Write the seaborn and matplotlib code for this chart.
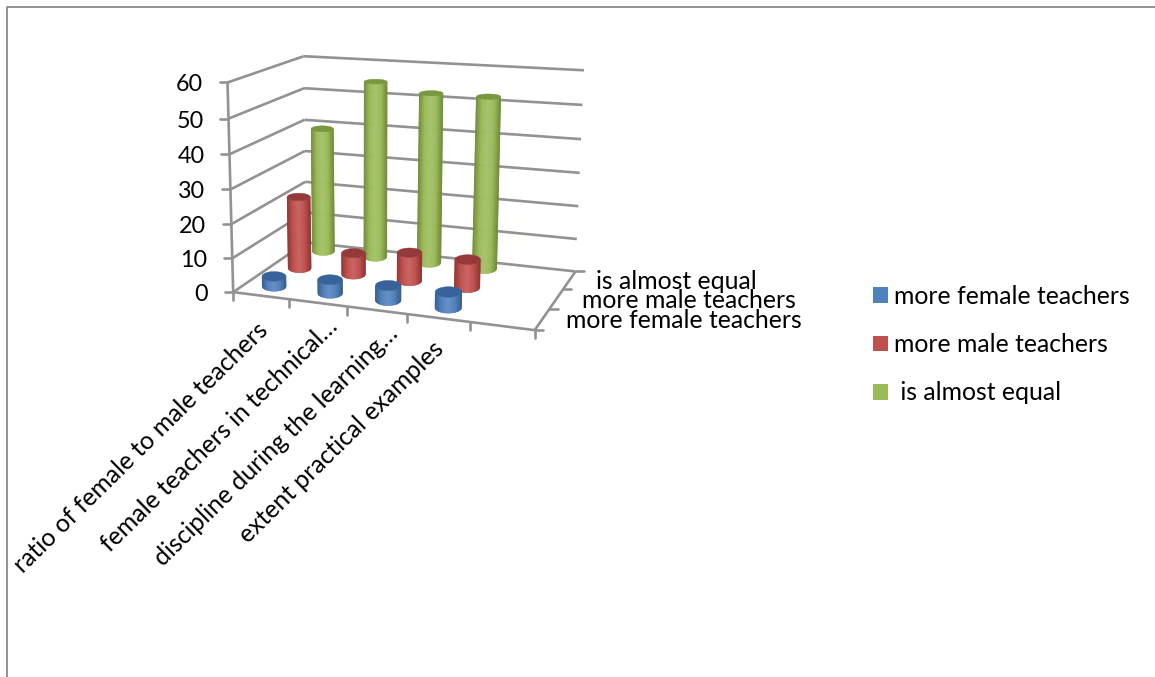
import colorsys

import numpy as np
import pandas as pd
import matplotlib
matplotlib.use("Agg")
import matplotlib.pyplot as plt
from matplotlib.colors import to_rgb
from matplotlib.patches import Patch, Polygon
import seaborn as sns

# Survey results
categories = [
    "ratio of female to male teachers",
    "female teachers in technical…",
    "discipline during the learning…",
    "extent practical examples",
]
series_names = ["more female teachers", "more male teachers", "is almost equal"]
female_values = [3, 4, 4.3, 4.5]
male_values = [22, 6.5, 8.5, 8.3]
equal_values = [39, 54.5, 52, 52]
value_ticks = [0, 10, 20, 30, 40, 50, 60]
series_colors = ["#4F81BD", "#C0504D", "#9BBB59"]
cap_colors = ["#38639A", "#96393A", "#78973F"]

table = pd.DataFrame({
    "category": list(range(len(categories))) * 3,
    "series": np.repeat(range(3), len(categories)),
    "value": female_values + male_values + equal_values,
})

sns.set_theme(style="white")
plt.rcParams["font.family"] = ["Lato", "DejaVu Sans"]

W, H = 1155, 677
fig = plt.figure(figsize=(W / 100, H / 100), dpi=100, facecolor="white")
ax = fig.add_axes([0, 0, 1, 1])
ax.set_xlim(0, W)
ax.set_ylim(H, 0)
ax.axis("off")

LINE = "#929292"
FONT = 17.8
X_SLOTS = 5  # four filled categories plus one empty slot on the category axis
ROW_DEPTH = [0.5, 1.55, 2.62]  # where each series row stands on the depth axis

# Camera: a projective map from (category, depth, value) to canvas pixels,
# solved from where the box corners and edge divisions should land.
camera_world = np.array([
    [0, 0, 0], [5, 0, 0], [5, 3, 0], [0, 3, 0],
    [0, 0, 60], [0, 3, 60], [5, 3, 60],
    [0, 0, 30], [0, 3, 30], [5, 3, 30],
    [1, 0, 0], [2, 0, 0], [3, 0, 0], [4, 0, 0],
    [5, 1, 0], [5, 2, 0], [5, 3, 10],
], float)
camera_canvas = np.array([
    [235, 291.7], [532.7, 330.7], [574.5, 270], [303.5, 243.5],
    [225.7, 82.7], [306, 55], [583.3, 70.7],
    [230.5, 189.3], [305, 151.7], [579.3, 173.3],
    [290, 298], [347.3, 306.7], [406.7, 315], [468.3, 323],
    [553.3, 308], [565, 288], [576.7, 240],
], float)


def solve_camera(world, canvas):
    rows, rhs = [], []
    for (x, y, z), (u, v) in zip(world, canvas):
        rows.append([x, y, z, 1, 0, 0, 0, 0, -u * x, -u * y, -u * z])
        rows.append([0, 0, 0, 0, x, y, z, 1, -v * x, -v * y, -v * z])
        rhs += [u, v]
    p = np.linalg.lstsq(np.array(rows), np.array(rhs), rcond=None)[0]
    return np.append(p, 1.0).reshape(3, 4)


P = solve_camera(camera_world, camera_canvas)


def project(x, y, z):
    x, y, z = np.broadcast_arrays(x, y, z)
    q = P @ np.vstack([x.ravel(), y.ravel(), z.ravel(), np.ones(x.size)])
    return q[0] / q[2], q[1] / q[2]


def edge(a, b, lw=1.9):
    xs, ys = project(*zip(a, b))
    ax.plot(xs, ys, color=LINE, lw=lw, solid_capstyle="butt", zorder=1)


# Outer chart frame
ax.plot([7, 7, W], [H, 7, 7], color="#8a8a8a", lw=1.3, zorder=1)

# Walls and floor
for v in value_ticks:
    edge((0, 0, v), (0, 3, v))
    edge((0, 3, v), (X_SLOTS, 3, v))
    u0, v0 = project(0, 0, v)
    ax.plot([u0[0] - 8, u0[0]], [v0[0], v0[0]], color=LINE, lw=1.9, zorder=1)
    ax.text(u0[0] - 25, v0[0] + 2.5, str(v), ha="right", va="center",
            fontsize=FONT - 1, color="black")
edge((0, 0, 0), (0, 0, 60))
edge((0, 0, 0), (X_SLOTS, 0, 0))
edge((X_SLOTS, 0, 0), (X_SLOTS, 3, 0))

for i in range(X_SLOTS + 1):
    u0, v0 = project(i, 0, 0)
    ax.plot([u0[0], u0[0]], [v0[0], v0[0] + 8], color=LINE, lw=1.9, zorder=1)
for j in range(4):
    u0, v0 = project(X_SLOTS, j, 0)
    ax.plot([u0[0], u0[0] + 8], [v0[0], v0[0]], color=LINE, lw=1.9, zorder=1)

# Rotated category labels, each ending just under the front edge
label_ends = [(264, 326), (334, 323), (394, 330), (440, 345)]
for name, (lx, ly) in zip(categories, label_ends):
    ax.text(lx, ly, name, rotation=44.5, rotation_mode="anchor", ha="right",
            va="center", fontsize=FONT, color="black")

# Depth axis labels
depth_labels = [(566.5, 320.5), (581.5, 300), (596, 281.5)]
for name, (lx, ly) in zip(series_names, depth_labels):
    ax.text(lx, ly, name, ha="left", va="center", fontsize=FONT, color="black")

HALF_WIDTH = 0.218   # cylinder half width, in category slots
FLATTEN = 0.41       # floor-level ellipse height over width
RISE_FLATTEN = 0.009 # ellipses flatten as they approach eye level
STRIPS = 48


def shade(colour, factor):
    h, l, s = colorsys.rgb_to_hls(*to_rgb(colour))
    return sns.set_hls_values(colour, l=min(0.95, l * factor))


def cylinder(cx, cy, value, base, cap, order):
    edge_tone = shade(base, 0.72)
    ramp = sns.blend_palette([edge_tone, base, shade(base, 1.1), base, edge_tone],
                             n_colors=STRIPS)
    ul, _ = project(cx - 0.5, cy, 0.0)
    ur, _ = project(cx + 0.5, cy, 0.0)
    a = HALF_WIDTH * (ur[0] - ul[0])
    b0 = FLATTEN * a
    b1 = b0 * (1 - RISE_FLATTEN * value)
    u0, v0 = project(cx, cy, 0.0)
    u1, v1 = project(cx, cy, float(value))
    s = np.linspace(-1, 1, STRIPS + 1)
    near = np.sqrt(1 - s ** 2)
    for k in range(STRIPS):
        quad = [(u0[0] + a * s[k], v0[0] + b0 * near[k]),
                (u0[0] + a * s[k + 1], v0[0] + b0 * near[k + 1]),
                (u1[0] + a * s[k + 1], v1[0] + b1 * near[k + 1]),
                (u1[0] + a * s[k], v1[0] + b1 * near[k])]
        ax.add_patch(Polygon(quad, closed=True, facecolor=ramp[k], edgecolor=ramp[k],
                             lw=0.3, zorder=order))
    t = np.linspace(0, 2 * np.pi, 73)
    ax.add_patch(Polygon(np.column_stack([u1[0] + a * np.cos(t), v1[0] + b1 * np.sin(t)]),
                         closed=True, facecolor=cap, edgecolor=cap, lw=0.3,
                         zorder=order + 0.05))


# Cylinders, rear row first
for row in table.sort_values(["series", "category"], ascending=[False, True]).itertuples():
    order = 3 + (2 - row.series) * 2 + row.category * 0.1
    cylinder(row.category + 0.505, ROW_DEPTH[row.series], row.value,
             series_colors[row.series], cap_colors[row.series], order)

# Legend
handles = [Patch(facecolor=c, edgecolor="none", label=n)
           for c, n in zip(series_colors, ["more female teachers", "more male teachers", " is almost equal"])]
ax.legend(handles=handles, loc="upper left", bbox_to_anchor=(873, 285),
          bbox_transform=ax.transData, frameon=False, fontsize=FONT, labelcolor="black",
          handlelength=0.61, handleheight=0.61, handletextpad=0.24,
          labelspacing=1.02, borderaxespad=0, borderpad=0)

fig.savefig("out.png", dpi=100)
